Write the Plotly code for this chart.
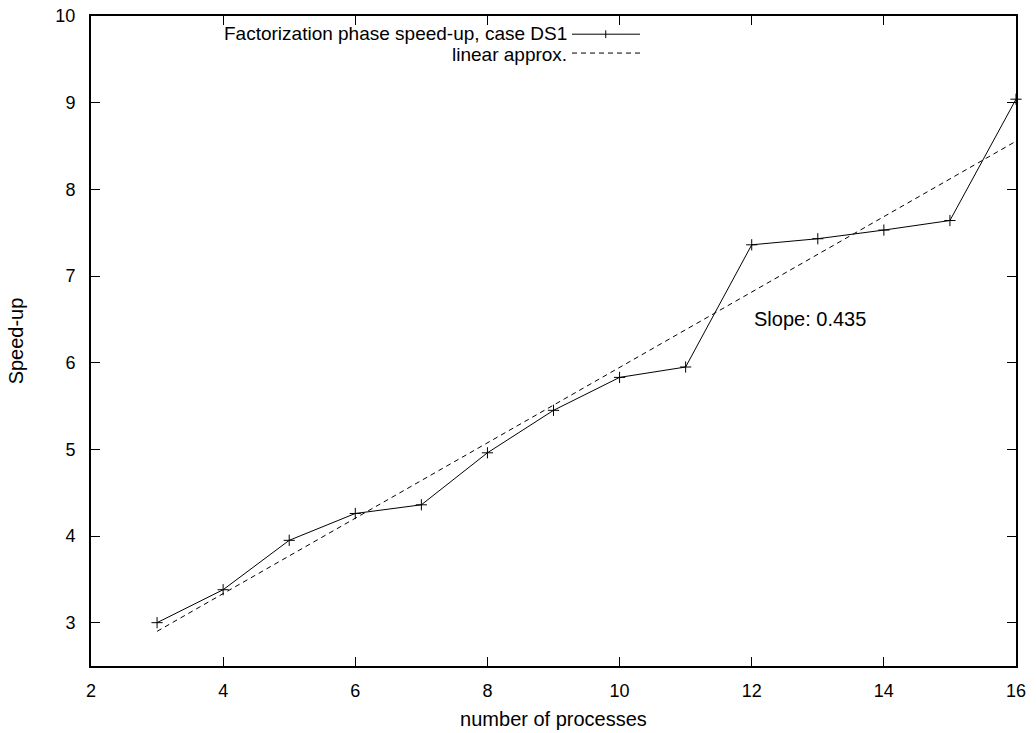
import plotly.graph_objects as go

procs = [3, 4, 5, 6, 7, 8, 9, 10, 11, 12, 13, 14, 15, 16]
speedup = [3.0, 3.38, 3.95, 4.26, 4.36, 4.96, 5.45, 5.83, 5.95, 7.36, 7.43, 7.53, 7.64, 9.04]
slope = 0.435
intercept = 1.595
approx_x = [3, 16]
approx_y = [intercept + slope * x for x in approx_x]

FONT = "Liberation Sans, Arial, Helvetica, sans-serif"
TXT = 20
LEG = 19
TICK = 18
DASH = "5px,4px"

fig = go.Figure()
fig.add_trace(go.Scatter(x=procs, y=speedup, mode="lines+markers",
                         line=dict(color="black", width=1),
                         marker=dict(symbol="cross-thin", size=8,
                                     line=dict(color="black", width=1)),
                         cliponaxis=False, showlegend=False))
fig.add_trace(go.Scatter(x=approx_x, y=approx_y, mode="lines",
                         line=dict(color="black", width=1, dash=DASH),
                         showlegend=False))

# gnuplot-style legend: right-aligned text followed by sample line
fig.add_annotation(x=0.517, y=0.9735, xref="paper", yref="paper",
                   text="Factorization phase speed-up, case DS1", showarrow=False,
                   xanchor="right", yanchor="middle", font=dict(size=LEG, color="black", family=FONT))
fig.add_annotation(x=0.517, y=0.941, xref="paper", yref="paper",
                   text="linear approx.", showarrow=False,
                   xanchor="right", yanchor="middle", font=dict(size=LEG, color="black", family=FONT))
fig.add_shape(type="line", xref="paper", yref="paper", x0=0.520, x1=0.5935, y0=0.972, y1=0.972,
              line=dict(color="black", width=1))
fig.add_shape(type="line", xref="paper", yref="paper", x0=0.5565, x1=0.5565, y0=0.966, y1=0.978,
              line=dict(color="black", width=1))
fig.add_shape(type="line", xref="paper", yref="paper", x0=0.520, x1=0.5935, y0=0.943, y1=0.943,
              line=dict(color="black", width=1, dash=DASH))

fig.add_annotation(x=12, y=6.5, text="Slope: 0.435", showarrow=False,
                   xanchor="left", yanchor="middle", font=dict(size=TXT, color="black", family=FONT))

axis_common = dict(showline=True, linecolor="black", linewidth=2, mirror="allticks",
                   ticks="inside", ticklen=9, tickwidth=1, tickcolor="black",
                   showgrid=False, zeroline=False, automargin=False,
                   tickfont=dict(size=TICK, color="black", family=FONT))
fig.update_xaxes(range=[2, 16], dtick=2, tick0=2, ticklabelstandoff=7,
                 title=dict(text="number of processes", font=dict(size=TXT, color="black", family=FONT), standoff=12),
                 **axis_common)
fig.update_yaxes(range=[2.5, 10], tickvals=[3, 4, 5, 6, 7, 8, 9, 10], ticklabelstandoff=10,
                 title=dict(text="Speed-up", font=dict(size=TXT, color="black", family=FONT), standoff=26),
                 **axis_common)

fig.update_layout(width=1036, height=733, margin=dict(l=91, r=20, t=16, b=67),
                  plot_bgcolor="white", paper_bgcolor="white",
                  font=dict(family=FONT, color="black", size=TXT))

fig.write_html("out.html")
